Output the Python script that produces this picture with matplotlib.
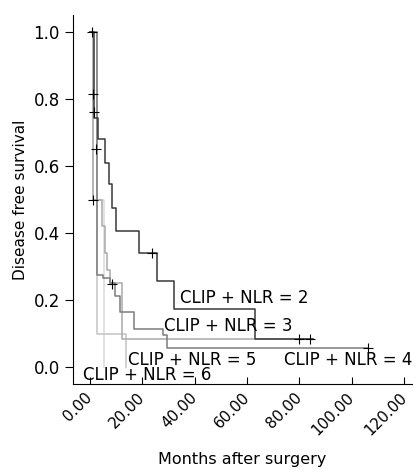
import matplotlib.pyplot as plt
import matplotlib.transforms as mtransforms

# step points (months, survival)
t2 = [0, 1.5, 3.0, 5.7, 7.3, 8.4, 9.9, 18.7, 25.6, 32.0, 63.0, 85.0]
s2 = [1.0, 0.743, 0.68, 0.61, 0.545, 0.475, 0.405, 0.34, 0.257, 0.173, 0.084, 0.084]

t3 = [0, 1.2, 4.6, 5.6, 6.6, 7.6, 12.2, 85.0]
s3 = [1.0, 0.5, 0.42, 0.34, 0.29, 0.25, 0.084, 0.084]

t4 = [0, 2.6, 5.0, 7.7, 9.7, 11.3, 16.8, 28.0, 29.2, 106.0]
s4 = [1.0, 0.275, 0.265, 0.252, 0.213, 0.165, 0.113, 0.095, 0.056, 0.056]

t5 = [0, 2.7, 13.6]
s5 = [1.0, 0.1, 0.0]

t6 = [0, 1.2, 5.4]
s6 = [1.0, 0.5, 0.0]

# censored observations
cens_t = [0.8, 1.3, 1.4, 2.2, 1.2, 8.3, 23.7, 80.0, 84.0, 106.0]
cens_s = [1.0, 0.815, 0.76, 0.65, 0.5, 0.248, 0.34, 0.084, 0.084, 0.056]

groups = ['CLIP + NLR = 2', 'CLIP + NLR = 3', 'CLIP + NLR = 4',
          'CLIP + NLR = 5', 'CLIP + NLR = 6']
xticks = [0, 20, 40, 60, 80, 100, 120]
yticks = [0.0, 0.2, 0.4, 0.6, 0.8, 1.0]

curves = [(t6, s6, '#dadada'), (t5, s5, '#c4c4c4'), (t3, s3, '#a9a9a9'),
          (t4, s4, '#7c7c7c'), (t2, s2, '#383838')]

fig = plt.figure(figsize=(4.2, 4.74), dpi=100)
ax = fig.add_axes([0.174, 0.19, 0.807, 0.778])

for t, s, c in curves:
    ax.plot(t, s, drawstyle='steps-post', color=c, lw=1.1)
ax.plot(cens_t, cens_s, '+', color='black', ms=6.5, mew=0.8, ls='none')

# curve labels
lab_pos = [(34.4, 0.206), (28.3, 0.122), (74.2, 0.021), (14.5, 0.021), (-2.7, -0.024)]
for g, (x, y) in zip(groups, lab_pos):
    ax.text(x, y, g, ha='left', va='center', fontsize=12)

ax.set_xlim(-6.5, 123)
ax.set_ylim(-0.05, 1.05)
ax.set_xticks(xticks)
ax.set_xticklabels(['%.2f' % v for v in xticks], rotation=45, ha='right',
                   va='center', rotation_mode='anchor', fontsize=11)
shift = mtransforms.ScaledTranslation(6 / 100, 0, fig.dpi_scale_trans)
for lbl in ax.get_xticklabels():
    lbl.set_transform(lbl.get_transform() + shift)
ax.set_yticks(yticks)
ax.set_yticklabels(['%.1f' % v for v in yticks], fontsize=12)
ax.tick_params(axis='x', direction='in', length=5, pad=8)
ax.tick_params(axis='y', direction='out', length=6)
ax.spines['top'].set_visible(False)
ax.spines['right'].set_visible(False)

ax.set_xlabel('Months after surgery', fontsize=11.5, labelpad=10)
ax.set_ylabel('Disease free survival', fontsize=11)

fig.savefig('out.png')
